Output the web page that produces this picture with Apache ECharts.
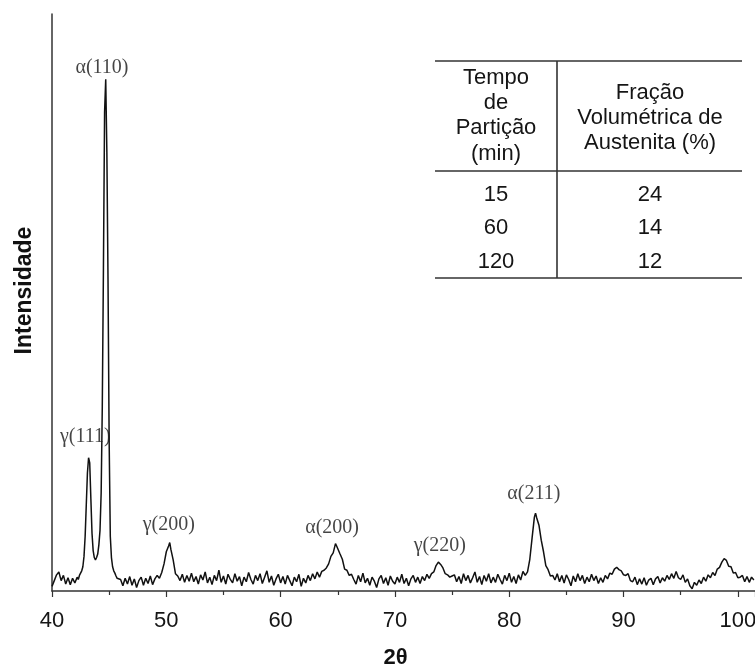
<!DOCTYPE html>
<html>
<head>
<meta charset="utf-8">
<script src="https://cdn.jsdelivr.net/npm/echarts@6/dist/echarts.min.js"></script>
<style>html,body{margin:0;padding:0;background:#fff}#c{width:755px;height:668px}</style>
</head>
<body>
<div id="c"></div>
<script>
// XRD pattern: [2θ, intensity (arbitrary units)]
const scanLowAngle = [[40.0,8],[40.2,18],[40.4,28],[40.6,33],[40.8,18],[41.0,27],[41.2,12],[41.4,23],[41.6,11],[41.8,22],[42.0,14],[42.2,24]];
const scanMainPeaks = [[42.3,20],[42.4,27],[42.5,26],[42.6,35],[42.7,42],[42.8,60],[42.9,95],[43.0,150],[43.1,205],[43.2,231],[43.3,222],[43.4,160],[43.5,100],[43.6,70],[43.7,58],[43.8,54],[43.9,58],[44.0,64],[44.1,80],[44.2,105],[44.3,170],[44.4,320],[44.5,560],[44.6,830],[44.7,887],[44.8,760],[44.9,540],[45.0,260],[45.1,95],[45.2,58],[45.3,42],[45.4,35],[45.5,31],[45.6,26],[45.7,22],[45.8,24]];
const scanGamma200 = [[46.0,20],[46.2,9],[46.4,22],[46.6,12],[46.8,25],[47.0,10],[47.2,21],[47.4,6],[47.6,18],[47.8,24],[48.0,10],[48.2,22],[48.4,13],[48.6,26],[48.8,11],[49.0,21],[49.2,27],[49.4,22],[49.6,32],[49.8,47],[50.0,68],[50.2,78],[50.3,84],[50.4,72],[50.6,54],[50.8,30],[51.0,26],[51.2,18]];
const scanAlpha200 = [[51.4,29],[51.6,15],[51.8,27],[52.0,17],[52.2,31],[52.4,16],[52.6,25],[52.8,12],[53.0,28],[53.2,19],[53.4,33],[53.6,14],[53.8,24],[54.0,11],[54.2,27],[54.4,18],[54.6,36],[54.8,15],[55.0,26],[55.2,12],[55.4,29],[55.6,20],[55.8,14],[56.0,30],[56.2,17],[56.4,25],[56.6,9],[56.8,24],[57.0,16],[57.2,32],[57.4,20],[57.6,12],[57.8,27],[58.0,18],[58.2,30],[58.4,13],[58.6,24],[58.8,35],[59.0,15],[59.2,26],[59.4,10],[59.6,21],[59.8,29],[60.0,14],[60.2,25],[60.4,12],[60.6,27],[60.8,18],[61.0,9],[61.2,24],[61.4,16],[61.6,29],[61.8,8],[62.0,22],[62.2,14],[62.4,27],[62.6,18],[62.8,30],[63.0,21],[63.2,33],[63.4,24],[63.6,34],[63.8,36],[64.0,40],[64.2,47],[64.4,60],[64.6,66],[64.8,82],[64.9,78],[65.0,80],[65.2,64],[65.4,55],[65.6,38],[65.8,36],[66.0,27],[66.2,29]];
const scanGamma220 = [[66.4,20],[66.6,12],[66.8,27],[67.0,16],[67.2,31],[67.4,14],[67.6,22],[67.8,10],[68.0,24],[68.2,17],[68.4,6],[68.6,21],[68.8,27],[69.0,13],[69.2,23],[69.4,10],[69.6,26],[69.8,17],[70.0,12],[70.2,24],[70.4,15],[70.6,29],[70.8,13],[71.0,22],[71.2,9],[71.4,21],[71.6,27],[71.8,15],[72.0,24],[72.2,13],[72.4,25],[72.6,18],[72.8,29],[73.0,22],[73.2,30],[73.4,33],[73.6,44],[73.8,50],[74.0,46],[74.2,40],[74.4,30],[74.6,28],[74.8,24],[75.0,26]];
const scanAlpha211 = [[75.2,28],[75.4,16],[75.6,25],[75.8,13],[76.0,30],[76.2,18],[76.4,27],[76.6,14],[76.8,23],[77.0,33],[77.2,15],[77.4,25],[77.6,11],[77.8,27],[78.0,17],[78.2,30],[78.4,14],[78.6,24],[78.8,15],[79.0,29],[79.2,20],[79.4,12],[79.6,27],[79.8,18],[80.0,31],[80.2,15],[80.4,25],[80.6,13],[80.8,28],[81.0,19],[81.2,34],[81.4,27],[81.6,33],[81.8,55],[82.0,92],[82.2,128],[82.3,135],[82.4,127],[82.6,114],[82.8,88],[83.0,68],[83.2,44],[83.4,37],[83.6,26],[83.8,27]];
const scanHighAngle = [[84.0,19],[84.2,30],[84.4,16],[84.6,27],[84.8,14],[85.0,28],[85.2,20],[85.4,9],[85.6,26],[85.8,16],[86.0,30],[86.2,18],[86.4,27],[86.6,13],[86.8,24],[87.0,16],[87.2,29],[87.4,18],[87.6,26],[87.8,13],[88.0,23],[88.2,15],[88.4,27],[88.6,21],[88.8,31],[89.0,29],[89.2,38],[89.4,41],[89.6,37],[89.8,35],[90.0,28],[90.2,27],[90.4,30],[90.6,18],[90.8,16],[91.0,24],[91.2,11],[91.4,21],[91.6,12],[91.8,23],[92.0,10],[92.2,19],[92.4,22],[92.6,11],[92.8,21],[93.0,25],[93.2,14],[93.4,23],[93.6,17],[93.8,27],[94.0,20],[94.2,30],[94.4,22],[94.6,34],[94.8,23],[95.0,20],[95.2,28],[95.4,15],[95.6,21],[95.8,9],[96.0,4],[96.2,15],[96.4,10],[96.6,19],[96.8,13],[97.0,24],[97.2,17],[97.4,28],[97.6,23],[97.8,32],[98.0,27],[98.2,38],[98.4,41],[98.6,50],[98.8,56],[99.0,53],[99.2,43],[99.4,42],[99.6,31],[99.8,32],[100.0,23],[100.2,24],[100.4,27],[100.6,16],[100.8,25],[101.0,15],[101.2,24],[101.4,19]];

// Peak annotations (label anchor in data coordinates)
const peakNames = ['α(110)','γ(111)','γ(200)','α(200)','γ(220)','α(211)'];
const peakLabelX = [44.37, 42.91, 50.22, 64.5, 73.93, 82.15];
const peakLabelY = [907, 267, 114, 110, 79, 169];

// Inset table
const tableHeaderLeft = ['Tempo','de','Partição','(min)'];
const tableHeaderRight = ['Fração','Volumétrica de','Austenita (%)'];
const partitionTime = ['15','60','120'];
const austeniteFraction = ['24','14','12'];

// X axis
const xMin = 40, xMax = 101.5, xInterval = 10;

const scan = [].concat(scanLowAngle, scanMainPeaks, scanGamma200, scanAlpha200, scanGamma220, scanAlpha211, scanHighAngle);

const chart = echarts.init(document.getElementById('c'), null, {renderer:'canvas'});

const sans = 'Liberation Sans, Arial, sans-serif';
const serif = 'Liberation Serif, Times New Roman, serif';
const ink = '#151515';
const lineCol = '#333';

// table graphics
const tL = 435, tR = 742, tMid = 557, tTop = 61, tHead = 171, tBot = 278;
const graphics = [];
[tTop, tHead, tBot].forEach(y => graphics.push({type:'line', shape:{x1:tL, y1:y, x2:tR, y2:y}, style:{stroke:lineCol, lineWidth:1.6}}));
graphics.push({type:'line', shape:{x1:tMid, y1:tTop, x2:tMid, y2:tBot}, style:{stroke:lineCol, lineWidth:1.6}});
const tFont = '22px ' + sans;
const hlY = [78, 103, 128, 154];
tableHeaderLeft.forEach((t,i) => graphics.push({type:'text', x:496, y:hlY[i], style:{text:t, fill:ink, font:tFont, align:'center', verticalAlign:'middle'}}));
const hrY = [93, 118, 143];
tableHeaderRight.forEach((t,i) => graphics.push({type:'text', x:650, y:hrY[i], style:{text:t, fill:ink, font:tFont, align:'center', verticalAlign:'middle'}}));
const rowY = [195, 228, 262];
partitionTime.forEach((t,i) => graphics.push({type:'text', x:496, y:rowY[i], style:{text:t, fill:ink, font:tFont, align:'center', verticalAlign:'middle'}}));
austeniteFraction.forEach((t,i) => graphics.push({type:'text', x:650, y:rowY[i], style:{text:t, fill:ink, font:tFont, align:'center', verticalAlign:'middle'}}));

chart.setOption({
  animation:false,
  backgroundColor:'#fff',
  grid:{left:52, right:0, top:14, bottom:77, containLabel:false, outerBoundsMode:'none'},
  xAxis:{
    type:'value', min:xMin, max:xMax, interval:xInterval,
    name:'2θ', nameLocation:'middle', nameGap:56,
    nameTextStyle:{fontFamily:sans, fontSize:22, fontWeight:'bold', color:'#111', padding:[0,16,0,0]},
    axisLine:{show:true, onZero:false, lineStyle:{color:lineCol, width:1.5}},
    axisTick:{show:true, inside:false, length:6, lineStyle:{color:lineCol, width:1.2}},
    minorTick:{show:true, splitNumber:2, length:4, lineStyle:{color:lineCol, width:1.2}},
    axisLabel:{show:true, margin:19, fontFamily:sans, fontSize:22, color:ink, showMaxLabel:false,
      formatter: v => (v % 10 === 0 ? String(v) : '')},
    splitLine:{show:false}
  },
  yAxis:{
    type:'value', min:0, max:1000,
    name:'Intensidade', nameLocation:'middle', nameGap:16, nameRotate:90,
    nameTextStyle:{fontFamily:sans, fontSize:23, fontWeight:'bold', color:'#111', padding:[0,0,0,24]},
    axisLine:{show:true, onZero:false, lineStyle:{color:lineCol, width:1.5}},
    axisTick:{show:false}, axisLabel:{show:false}, splitLine:{show:false}
  },
  graphic:graphics,
  series:[
    {type:'line', data:scan, showSymbol:false, symbol:'none', smooth:false,
     lineStyle:{color:'#111', width:1.5}, clip:false, z:2},
    {type:'scatter', symbolSize:0, z:3, silent:true,
     data: peakNames.map((n,i) => ({name:n, value:[peakLabelX[i], peakLabelY[i]]})),
     label:{show:true, position:'inside', formatter: p => p.name, fontFamily:serif, fontSize:20, color:ink}}
  ]
});
</script>
</body>
</html>
